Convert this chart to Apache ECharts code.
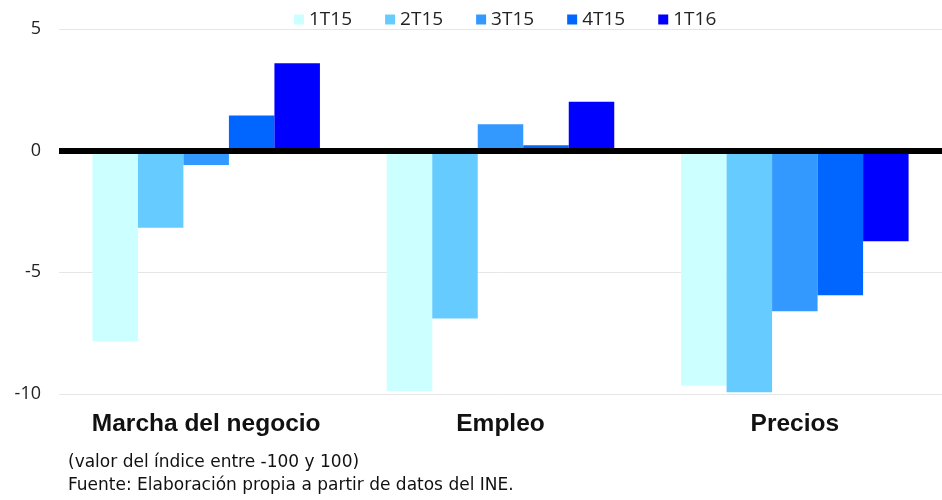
<!DOCTYPE html>
<html>
<head>
<meta charset="utf-8">
<script src="https://cdn.jsdelivr.net/npm/echarts@6/dist/echarts.min.js"></script>
<style>html,body{margin:0;padding:0;background:#fff}#c{width:942px;height:500px}</style>
</head>
<body>
<div id="c"></div>
<script>
var categories = ["Marcha del negocio", "Empleo", "Precios"];
var seriesNames = ["1T15", "2T15", "3T15", "4T15", "1T16"];
var s1T15 = [-7.83, -9.88, -9.65];
var s2T15 = [-3.17, -6.9, -9.93];
var s3T15 = [-0.59, 1.09, -6.6];
var s4T15 = [1.45, 0.22, -5.94];
var s1T16 = [3.59, 2.01, -3.72];
var colors = ["#CCFFFF", "#66CCFF", "#3399FF", "#0066FF", "#0000FF"];
var yTicks = [-10, -5, 0, 5];
var notes = ["(valor del índice entre -100 y 100)", "Fuente: Elaboración propia a partir de datos del INE."];

var allData = [s1T15, s2T15, s3T15, s4T15, s1T16];
var chart = echarts.init(document.getElementById('c'), null, {renderer: 'canvas'});
var series = seriesNames.map(function (n, i) {
  var s = {
    name: n, type: 'bar', data: allData[i],
    barGap: '0%', barCategoryGap: '22.7%',
    itemStyle: {color: colors[i]}
  };
  if (i === 0) {
    s.markLine = {
      silent: true, symbol: ['none', 'none'], z: 10,
      label: {show: false},
      lineStyle: {color: '#000', width: 6, type: 'solid'},
      data: [{yAxis: 0}]
    };
  }
  return s;
});
chart.setOption({
  animation: false,
  color: colors,
  legend: {
    top: 5, left: 289,
    itemWidth: 10, itemHeight: 10, itemGap: 33,
    icon: 'rect',
    textStyle: {fontFamily: '"Open Sans"', fontSize: 19, color: '#222'},
    data: seriesNames
  },
  grid: {left: 59, top: 29, width: 893, bottom: 106, containLabel: false},
  xAxis: {
    type: 'category', data: categories,
    axisLine: {show: false}, axisTick: {show: false},
    axisLabel: {interval: 0, hideOverlap: false, margin: 18, fontFamily: 'Arial', fontWeight: 'bold', fontSize: 24.5, color: '#111'}
  },
  yAxis: {
    type: 'value', min: yTicks[0], max: yTicks[yTicks.length - 1], interval: 5,
    axisLine: {show: false}, axisTick: {show: false},
    axisLabel: {margin: 18, fontFamily: '"Open Sans"', fontSize: 18, color: '#222'},
    splitLine: {lineStyle: {color: '#e6e6e6', width: 1}}
  },
  graphic: [
    {type: 'text', left: 68, top: 454, style: {text: notes[0], font: '17px "DejaVu Sans"', fill: '#111'}},
    {type: 'text', left: 68, top: 477, style: {text: notes[1], font: '17px "DejaVu Sans"', fill: '#111'}}
  ],
  series: series
});
</script>
</body>
</html>
